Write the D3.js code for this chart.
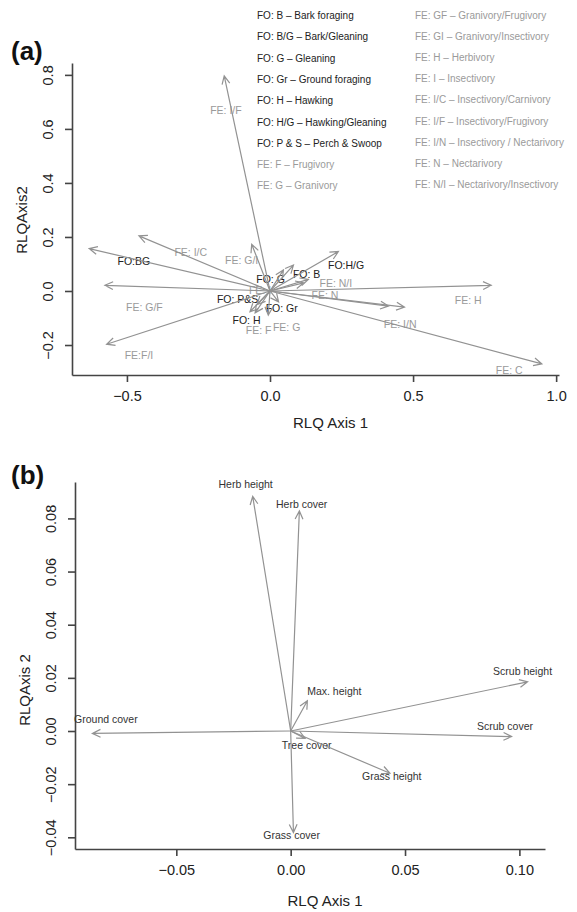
<!DOCTYPE html>
<html>
<head>
<meta charset="utf-8">
<script src="https://cdn.jsdelivr.net/npm/d3@7"></script>
<style>
  body { margin: 0; background: #fff; }
  svg text { font-family: "Liberation Sans", Arial, sans-serif; }
</style>
</head>
<body>
<div id="chart"></div>
<script>
// ---- data: panel (a) ----
const legendLeft = ["FO: B \u2013 Bark foraging", "FO: B/G \u2013 Bark/Gleaning", "FO: G \u2013 Gleaning",
  "FO: Gr \u2013 Ground foraging", "FO: H \u2013 Hawking", "FO: H/G \u2013 Hawking/Gleaning",
  "FO: P & S \u2013 Perch & Swoop", "FE: F \u2013 Frugivory", "FE: G \u2013 Granivory"];
const legendRight = ["FE: GF \u2013 Granivory/Frugivory", "FE: GI \u2013 Granivory/Insectivory",
  "FE: H \u2013 Herbivory", "FE: I \u2013 Insectivory", "FE: I/C \u2013 Insectivory/Carnivory",
  "FE: I/F \u2013 Insectivory/Frugivory", "FE: I/N \u2013 Insectivory / Nectarivory",
  "FE: N \u2013 Nectarivory", "FE: N/I \u2013 Nectarivory/Insectivory"];

const aNames  = ["FE: I/F", "FE: I/C", "FO:BG", "FE: G/F", "FE:F/I", "FE: H", "FE: N", "FE: I/N", "FE: C",
  "FO:H/G", "FE: G/I", "FO: B", "FE: N/I", "FO: G", "FE: I", "FO: P&S", "FO: H", "FE: F", "FE: G", "FO: Gr"];
const aX      = [-0.160, -0.458, -0.632, -0.577, -0.571, 0.773, 0.414, 0.470, 0.950,
  0.239, -0.064, 0.134, 0.118, 0.047, 0.082, -0.045, -0.070, -0.052, -0.006, 0.030];
const aY      = [0.796, 0.204, 0.157, 0.021, -0.197, 0.021, -0.056, -0.060, -0.270,
  0.146, 0.173, 0.043, 0.030, 0.078, 0.096, -0.050, -0.077, -0.081, -0.089, -0.040];
const aLabX   = [-0.154, -0.277, -0.476, -0.439, -0.458, 0.693, 0.192, 0.455, 0.836,
  0.266, -0.099, 0.128, 0.230, 0.002, -0.035, -0.113, -0.082, -0.040, 0.058, 0.041];
const aLabY   = [0.668, 0.143, 0.110, -0.059, -0.240, -0.033, -0.017, -0.123, -0.295,
  0.095, 0.115, 0.062, 0.028, 0.043, 0.004, -0.031, -0.108, -0.146, -0.136, -0.063];
const aXTicks = [-0.5, 0, 0.5, 1.0];
const aYTicks = [-0.2, 0, 0.2, 0.4, 0.6, 0.8];

// ---- data: panel (b) ----
const bNames = ["Herb height", "Herb cover", "Scrub height", "Max. height", "Ground cover",
  "Scrub cover", "Tree cover", "Grass height", "Grass cover"];
const bX    = [-0.0166, 0.0038, 0.1036, 0.0073, -0.0867, 0.0966, 0.0063, 0.0434, 0.0012];
const bY    = [0.0883, 0.0828, 0.0185, 0.0114, -0.0009, -0.0021, -0.0028, -0.0159, -0.0382];
const bLabX = [-0.0197, 0.0048, 0.1014, 0.0191, -0.0808, 0.0937, 0.0070, 0.0442, 0.0004];
const bLabY = [0.0927, 0.0853, 0.0224, 0.0149, 0.0045, 0.0019, -0.0054, -0.0169, -0.0392];
const bXTicks = [-0.05, 0, 0.05, 0.10];
const bYTicks = [-0.04, -0.02, 0, 0.02, 0.04, 0.06, 0.08];

const W = 577, H = 912;
const svg = d3.select("#chart").append("svg").attr("width", W).attr("height", H);

const arrowCol = "#929292", axisCol = "#444", feCol = "#9a9a9a", foCol = "#222";

function arrow(g, x0, y0, x1, y1) {
  const ang = Math.atan2(y1 - y0, x1 - x0), len = 9, spread = Math.PI / 7;
  const p = d3.path();
  p.moveTo(x0, y0); p.lineTo(x1, y1);
  p.moveTo(x1 - len * Math.cos(ang - spread), y1 - len * Math.sin(ang - spread));
  p.lineTo(x1, y1);
  p.lineTo(x1 - len * Math.cos(ang + spread), y1 - len * Math.sin(ang + spread));
  g.append("path").attr("d", p.toString()).attr("fill", "none")
    .attr("stroke", arrowCol).attr("stroke-width", 1.2);
}

function axes(x, y, xt, yt, fmtX, fmtY, xTitle, yTitle, titleY, yTitleX, yTitleC) {
  const gx = svg.append("g").attr("transform", `translate(0,${y.range()[0]})`)
    .call(d3.axisBottom(x).tickValues(xt).tickSize(7).tickSizeOuter(0).tickPadding(9).tickFormat(fmtX));
  gx.selectAll("text").attr("font-size", 14.5).attr("fill", "#222");
  const gy = svg.append("g").attr("transform", `translate(${x.range()[0]},0)`)
    .call(d3.axisLeft(y).tickValues(yt).tickSize(7).tickSizeOuter(0).tickFormat(fmtY));
  gy.selectAll("text").attr("font-size", 14.5).attr("fill", "#222")
    .attr("transform", "rotate(-90)").attr("text-anchor", "middle")
    .attr("x", 0).attr("y", -19).attr("dy", 0);
  [gx, gy].forEach(g => {
    g.selectAll("path, line").attr("stroke", axisCol).attr("stroke-width", 1.6);
  });
  svg.append("text").attr("x", d3.mean(x.range()) + 15).attr("y", titleY)
    .attr("text-anchor", "middle").attr("font-size", 15).attr("fill", "#222").text(xTitle);
  svg.append("text").attr("transform", `translate(${yTitleX},${yTitleC}) rotate(-90)`)
    .attr("text-anchor", "middle").attr("font-size", 15).attr("fill", "#222").text(yTitle);
}

// ---- panel (a) ----
const xA = d3.scaleLinear().domain([-0.692, 1.01]).range([72, 559]);
const yA = d3.scaleLinear().domain([-0.311, 0.844]).range([375, 63]);
axes(xA, yA, aXTicks, aYTicks, d3.format(".1f"), d3.format(".1f"), "RLQ Axis 1", "RLQAxis2", 428, 27, 220);

svg.append("text").attr("x", 11).attr("y", 60).attr("font-size", 26).attr("font-weight", "bold")
  .attr("fill", "#111").text("(a)");

svg.append("g").selectAll("text").data(legendLeft).join("text")
  .attr("x", 257).attr("y", (d, i) => 19 + i * 21.3)
  .attr("font-size", 10).attr("fill", d => d.startsWith("FO") ? foCol : feCol).text(d => d);
svg.append("g").selectAll("text").data(legendRight).join("text")
  .attr("x", 415).attr("y", (d, i) => 18.5 + i * 21.2)
  .attr("font-size", 10).attr("fill", feCol).text(d => d);

const labA = svg.append("g");
aNames.forEach((n, i) => {
  labA.append("text").attr("x", xA(aLabX[i])).attr("y", yA(aLabY[i])).attr("dy", "0.35em")
    .attr("text-anchor", "middle").attr("font-size", 10.5)
    .attr("fill", n.startsWith("FO") ? foCol : feCol).text(n);
});
const arrA = svg.append("g");
aNames.forEach((n, i) => arrow(arrA, xA(0), yA(0), xA(aX[i]), yA(aY[i])));

// ---- panel (b) ----
const xB = d3.scaleLinear().domain([-0.0943, 0.1112]).range([75, 545]);
const yB = d3.scaleLinear().domain([-0.0444, 0.0937]).range([849, 482]);
axes(xB, yB, bXTicks, bYTicks, d3.format(".2f"), d3.format(".2f"), "RLQ Axis 1", "RLQAxis 2", 906, 30, 690);

svg.append("text").attr("x", 11).attr("y", 484).attr("font-size", 26).attr("font-weight", "bold")
  .attr("fill", "#111").text("(b)");

const labB = svg.append("g");
bNames.forEach((n, i) => {
  labB.append("text").attr("x", xB(bLabX[i])).attr("y", yB(bLabY[i])).attr("dy", "0.35em")
    .attr("text-anchor", "middle").attr("font-size", 10.5).attr("fill", "#333").text(n);
});
const arrB = svg.append("g");
bNames.forEach((n, i) => arrow(arrB, xB(0), yB(0), xB(bX[i]), yB(bY[i])));
</script>
</body>
</html>
